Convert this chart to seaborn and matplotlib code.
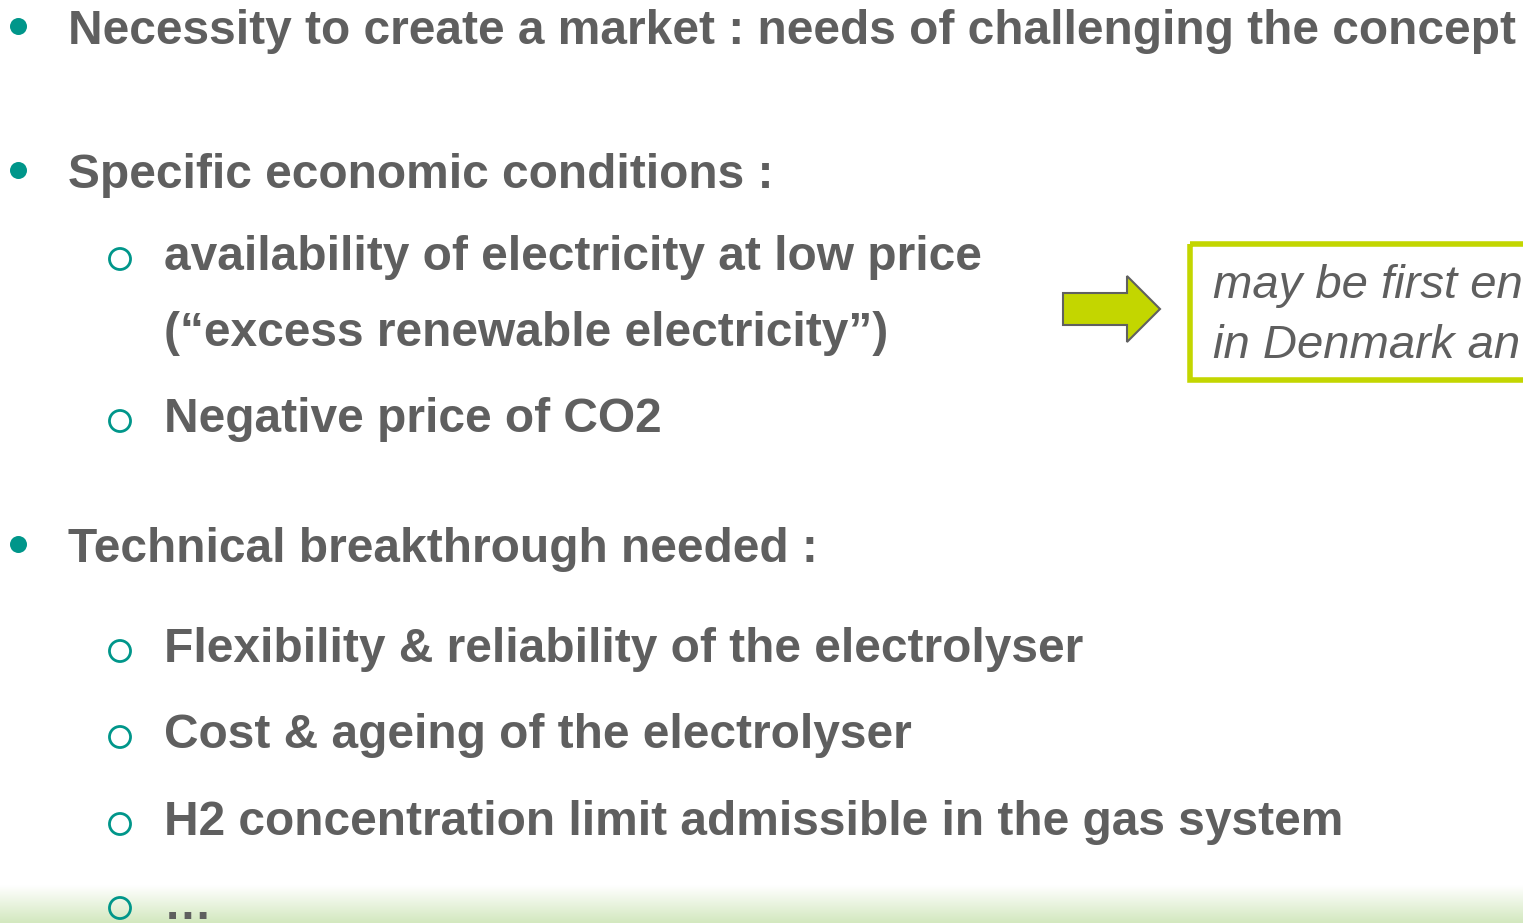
import matplotlib.pyplot as plt
import numpy as np
import seaborn as sns
from matplotlib.patches import FancyArrow, Rectangle

# slide content
main_items = [
    "Necessity to create a market : needs of challenging the concept",
    "Specific economic conditions :",
    "Technical breakthrough needed :",
]
economic_items = [
    "availability of electricity at low price\n(\u201cexcess renewable electricity\u201d)",
    "Negative price of CO2",
]
technical_items = [
    "Flexibility & reliability of the electrolyser",
    "Cost & ageing of the electrolyser",
    "H2 concentration limit admissible in the gas system",
    "\u2026",
]
box_text = "may be first en\nin Denmark an"

# baselines (pixel rows) of each line
main_y = [44, 188, 562]
economic_y = [[270, 346], [432]]
technical_y = [662, 748, 835, 919]

TEXT = "#5f5f5f"
TEAL = "#00968a"
LIME = "#c3d600"

sns.set_theme(style="white")
plt.rcParams["font.family"] = ["Liberation Sans", "DejaVu Sans"]

fig = plt.figure(figsize=(15.23, 9.23), dpi=100)
ax = fig.add_axes([0, 0, 1, 1])
ax.set_xlim(0, 1523)
ax.set_ylim(923, 0)
ax.axis("off")

# soft green band at the bottom
grad = np.linspace(0, 1, 50)[:, None]
cmap = sns.blend_palette(["#ffffff", "#d3e8bf"], as_cmap=True)
ax.imshow(grad, extent=(0, 1523, 923, 885), aspect="auto", cmap=cmap, zorder=0)

for text, y in zip(main_items, main_y):
    ax.scatter([18], [y - 18], s=150, color=TEAL, zorder=3, linewidths=0)
    ax.text(68, y, text, fontsize=34.5, fontweight="bold", color=TEXT, va="baseline")


def sub_item(text, ys):
    ax.scatter([120], [ys[0] - 11], s=230, facecolors="none", edgecolors=TEAL,
               linewidths=2.0, zorder=3, clip_on=False)
    for line, y in zip(text.split("\n"), ys):
        ax.text(164, y, line, fontsize=34.5, fontweight="bold", color=TEXT, va="baseline")


for text, ys in zip(economic_items, economic_y):
    sub_item(text, ys)
for text, y in zip(technical_items, technical_y):
    sub_item(text, [y])

# arrow pointing to the callout box
ax.add_patch(FancyArrow(1063, 309, 97, 0, width=32, head_width=66, head_length=33,
                        length_includes_head=True, facecolor=LIME, edgecolor="#606060",
                        linewidth=1.5, zorder=3))
ax.add_patch(Rectangle((1190, 244), 400, 136, fill=False, edgecolor=LIME,
                       linewidth=4, zorder=3, clip_on=True))
for line, y in zip(box_text.split("\n"), [298, 358]):
    ax.text(1213, y, line, fontsize=34, style="italic", color=TEXT, va="baseline")

fig.savefig("out.png", dpi=100, facecolor="white")
